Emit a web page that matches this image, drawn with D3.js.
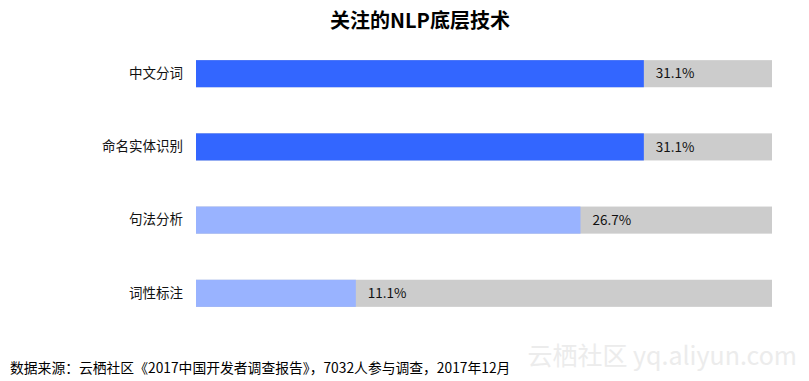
<!DOCTYPE html>
<html>
<head>
<meta charset="utf-8">
<script src="https://cdn.jsdelivr.net/npm/d3@7/dist/d3.min.js"></script>
<style>
  body { margin: 0; background: #fff; }
  text { font-family: "Noto Sans CJK SC", "Noto Sans", sans-serif; }
</style>
</head>
<body>
<div id="my_dataviz"></div>
<script>

// --------------------------------------------------------
// (1) Data
// --------------------------------------------------------

var categories = ["中文分词", "命名实体识别", "句法分析", "词性标注"]
var values = [31.1, 31.1, 26.7, 11.1]
var barColors = ["#3366ff", "#3366ff", "#99b3ff", "#99b3ff"]
var maxValue = 40

var title = "关注的NLP底层技术"
var source = "数据来源：云栖社区《2017中国开发者调查报告》，7032人参与调查，2017年12月"

// --------------------------------------------------------
// (2) Layout
// --------------------------------------------------------

var svg_width = 809
var svg_height = 381

const margin = { top: 36, right: 37, bottom: 50, left: 196 }
var width = svg_width - (margin.left + margin.right)
var height = svg_height - (margin.top + margin.bottom)

const svg = d3.select("#my_dataviz")
  .append("svg")
    .attr("width", svg_width)
    .attr("height", svg_height)

// title
svg.append("text")
  .attr("x", 420)
  .attr("y", 28)
  .attr("text-anchor", "middle")
  .attr("font-size", 20)
  .attr("font-weight", "bold")
  .attr("fill", "#000")
  .text(title)

const g = svg.append("g")
  .attr("transform", `translate(${margin.left}, ${margin.top})`)

// scales
const x = d3.scaleLinear()
  .domain([0, maxValue])
  .range([0, width])

const y = d3.scaleBand()
  .domain(categories)
  .range([0, 295])
  .paddingInner(0.63)
  .paddingOuter(0.33)

// category axis (no line, no ticks)
g.append("g")
  .call(d3.axisLeft(y).tickSize(0).tickPadding(13))
  .call(a => a.select(".domain").remove())
  .selectAll("text")
    .attr("font-size", 13.5)
    .attr("fill", "#111")
    .style("font-family", '"Noto Sans CJK SC", sans-serif')

// gray tracks
g.selectAll(".track")
  .data(categories)
  .join("rect")
    .attr("class", "track")
    .attr("x", 0)
    .attr("y", d => y(d))
    .attr("width", x(maxValue))
    .attr("height", y.bandwidth())
    .attr("fill", "#cccccc")

// bars
g.selectAll(".bar")
  .data(values)
  .join("rect")
    .attr("class", "bar")
    .attr("x", 0)
    .attr("y", (d, i) => y(categories[i]))
    .attr("width", d => x(d))
    .attr("height", y.bandwidth())
    .attr("fill", (d, i) => barColors[i])

// value labels
g.selectAll(".val")
  .data(values)
  .join("text")
    .attr("class", "val")
    .attr("x", d => x(d) + 12)
    .attr("y", (d, i) => y(categories[i]) + y.bandwidth() / 2)
    .attr("dy", "0.35em")
    .attr("font-size", 13.5)
    .attr("fill", "#111")
    .text(d => d.toFixed(1) + "%")

// source
svg.append("text")
  .attr("x", 10)
  .attr("y", 373)
  .attr("font-size", 13.8)
  .attr("fill", "#000")
  .text(source)

// watermark
svg.append("text")
  .attr("x", 797)
  .attr("y", 365)
  .attr("text-anchor", "end")
  .attr("font-size", 25)
  .attr("fill", "#ececec")
  .text("云栖社区 yq.aliyun.com")

</script>
</body>
</html>
